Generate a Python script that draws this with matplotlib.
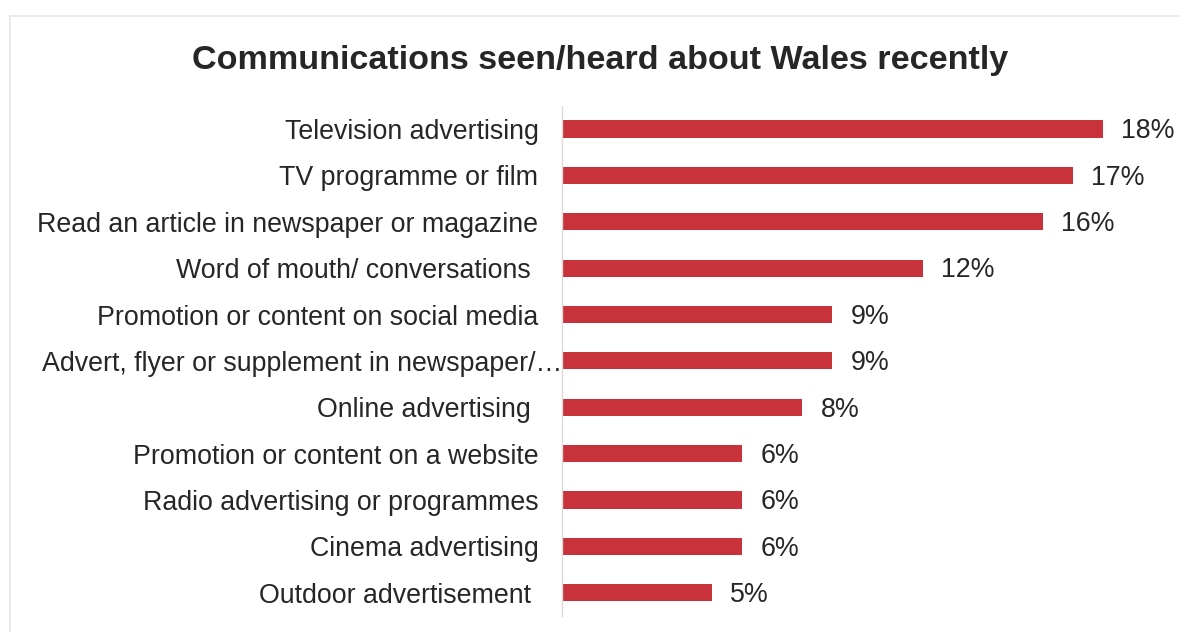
import matplotlib.pyplot as plt
from matplotlib.patches import Rectangle
from matplotlib.transforms import ScaledTranslation

# Share of respondents who recall each type of communication
categories = [
    "Television advertising",
    "TV programme or film",
    "Read an article in newspaper or magazine",
    "Word of mouth/ conversations ",
    "Promotion or content on social media",
    "Advert, flyer or supplement in newspaper/\u2026",
    "Online advertising ",
    "Promotion or content on a website",
    "Radio advertising or programmes",
    "Cinema advertising",
    "Outdoor advertisement ",
]
values = [18, 17, 16, 12, 9, 9, 8, 6, 6, 6, 5]

bar_color = "#C8323A"
text_color = "#262626"

plt.rcParams["font.family"] = ["Liberation Sans", "DejaVu Sans"]

fig = plt.figure(figsize=(11.79, 6.32), dpi=100)
fig.patch.set_facecolor("white")

# thin frame around the chart area
fig.patches.append(Rectangle((10 / 1179, -0.05), 1.2, 0.05 + (1 - 16 / 632),
                             transform=fig.transFigure, fill=False,
                             edgecolor="#e6e6e6", linewidth=1.2))

ax = fig.add_axes([562 / 1179, 16 / 632, 571 / 1179, (616 - 105.8) / 632])
y = list(range(len(categories)))
ax.barh(y, values, height=0.37, color=bar_color)
ax.set_ylim(len(categories) - 0.5, -0.5)
ax.set_xlim(0, 19)

ax.set_yticks(y)
ax.set_yticklabels(categories, fontsize=19.3, color=text_color)
ax.tick_params(axis="y", length=0, pad=17)
ax.set_xticks([])

# the truncated label runs right up to the axis line
for lbl in ax.get_yticklabels():
    if lbl.get_text().endswith("\u2026"):
        lbl.set_transform(lbl.get_transform()
                          + ScaledTranslation(0.24, 0, fig.dpi_scale_trans))

for s in ["top", "right", "bottom"]:
    ax.spines[s].set_visible(False)
ax.spines["left"].set_color("#d9d9d9")
ax.spines["left"].set_linewidth(1)

for yi, v in zip(y, values):
    ax.text(v + 0.6, yi + 0.05, f"{v}%", va="center", ha="left",
            fontsize=19.3, color=text_color)

fig.text(600 / 1179, 1 - 60 / 632, "Communications seen/heard about Wales recently",
         ha="center", va="center", fontsize=24.6, fontweight="bold", color=text_color)

fig.savefig("out.png", dpi=100)
